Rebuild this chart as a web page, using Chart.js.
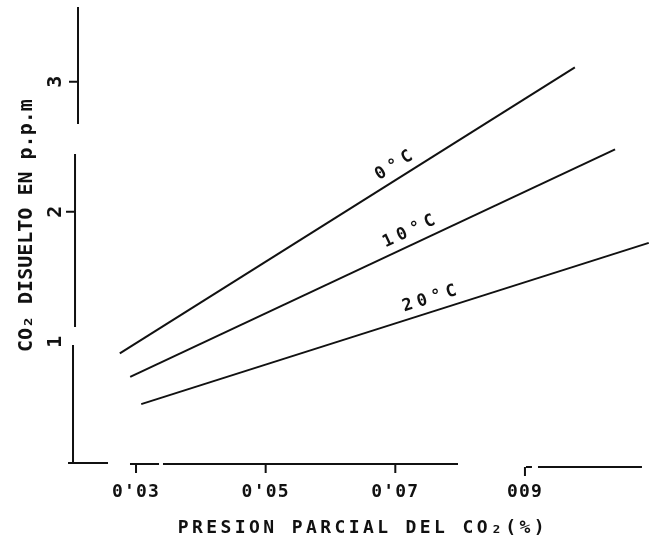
<!DOCTYPE html>
<html>
<head>
<meta charset="utf-8">
<script src="https://cdn.jsdelivr.net/npm/chart.js@4.4.1/dist/chart.umd.min.js"></script>
<style>
  html, body { margin: 0; padding: 0; background: #fff; }
  canvas { display: block; }
</style>
</head>
<body>
<canvas id="grafico" width="659" height="549"></canvas>
<script>
// valores
const curvas = ["0°C", "10°C", "20°C"];
const presion0 = [0.0275, 0.0977];
const ppm0 = [0.91, 3.11];
const presion10 = [0.0291, 0.1039];
const ppm10 = [0.73, 2.48];
const presion20 = [0.0308, 0.1091];
const ppm20 = [0.52, 1.76];

const xTicks = [0.03, 0.05, 0.07, 0.09];
const xTickLabels = ["0'03", "0'05", "0'07", "009"];
const yTicks = [1, 2, 3];
const yTickLabels = ["1", "2", "3"];

const INK = "#111";
const FONT = "'DejaVu Sans Mono', 'Liberation Mono', monospace";

const puntos = (xs, ys) => xs.map((x, i) => ({ x: x, y: ys[i] }));

// trozos de los ejes (el original los dibuja cortados), en unidades de datos
const ejeY = [
  { x: 0.02105, desde: 3.575, hasta: 2.675 },
  { x: 0.02059, desde: 2.444, hasta: 1.113 },
  { x: 0.02028, desde: 0.975, hasta: 0.066 },
];
const ejeX = [
  { y: 0.067, desde: 0.01951, hasta: 0.02568 },
  { y: 0.059, desde: 0.02907, hasta: 0.03355 },
  { y: 0.059, desde: 0.03416, hasta: 0.07967 },
  { y: 0.036, desde: 0.09016, hasta: 0.09108 },
  { y: 0.036, desde: 0.09201, hasta: 0.10805 },
];

// espaciado de letras por eje (rotulado a mano en el original)
const espaciado = { x: { title: "3.4px", ticks: "1.2px" }, y: { title: "0px", ticks: "0px" } };

const espaciadoPlugin = {
  id: "espaciado",
  afterUpdate(chart) {
    Object.keys(espaciado).forEach((id) => {
      const scale = chart.scales[id];
      if (!scale || scale._espaciado) return;
      const drawTitle = scale.drawTitle;
      const drawLabels = scale.drawLabels;
      scale.drawTitle = function (...args) {
        this.ctx.save();
        this.ctx.letterSpacing = espaciado[id].title;
        drawTitle.apply(this, args);
        this.ctx.restore();
      };
      scale.drawLabels = function (...args) {
        this.ctx.save();
        this.ctx.letterSpacing = espaciado[id].ticks;
        drawLabels.apply(this, args);
        this.ctx.restore();
      };
      scale._espaciado = true;
    });
  },
};

const ejesPlugin = {
  id: "ejes",
  afterDraw(chart) {
    const { ctx, scales: { x, y } } = chart;
    ctx.save();
    ctx.strokeStyle = INK;
    ctx.lineWidth = 2;
    ctx.lineCap = "butt";
    ctx.beginPath();
    ejeY.forEach((t) => {
      const px = x.getPixelForValue(t.x);
      ctx.moveTo(px, y.getPixelForValue(t.desde));
      ctx.lineTo(px, y.getPixelForValue(t.hasta));
      // marcas de la escala vertical
      yTicks.forEach((v) => {
        if (v <= t.desde && v >= t.hasta) {
          const py = y.getPixelForValue(v);
          ctx.moveTo(px, py);
          ctx.lineTo(px - 9, py);
        }
      });
    });
    ejeX.forEach((t) => {
      const py = y.getPixelForValue(t.y);
      ctx.moveTo(x.getPixelForValue(t.desde), py);
      ctx.lineTo(x.getPixelForValue(t.hasta), py);
    });
    xTicks.forEach((v) => {
      const t = ejeX.find((s) => v >= s.desde - 0.0002 && v <= s.hasta);
      if (!t) return;
      const px = x.getPixelForValue(v);
      const py = y.getPixelForValue(t.y);
      ctx.moveTo(px, py);
      ctx.lineTo(px, py + 9);
    });
    ctx.stroke();
    ctx.restore();
  },
};

const rotulosPlugin = {
  id: "rotulos",
  afterDatasetsDraw(chart, args, opts) {
    const { ctx, scales: { x, y } } = chart;
    ctx.save();
    ctx.fillStyle = INK;
    ctx.font = "bold 17px " + FONT;
    ctx.letterSpacing = "5px";
    ctx.textAlign = "center";
    ctx.textBaseline = "middle";
    chart.data.datasets.forEach((ds, i) => {
      const [a, b] = ds.data;
      const xv = opts.at[i];
      const yv = a.y + ((b.y - a.y) * (xv - a.x)) / (b.x - a.x);
      const ang = Math.atan2(
        y.getPixelForValue(b.y) - y.getPixelForValue(a.y),
        x.getPixelForValue(b.x) - x.getPixelForValue(a.x)
      );
      ctx.save();
      ctx.translate(x.getPixelForValue(xv), y.getPixelForValue(yv));
      ctx.rotate(ang);
      ctx.fillText(ds.label, 3, -13);
      ctx.restore();
    });
    ctx.restore();
  },
};

const serie = (label, xs, ys) => ({
  label: label,
  data: puntos(xs, ys),
  borderColor: INK,
  borderWidth: 2,
  pointRadius: 0,
  fill: false,
  tension: 0,
  clip: false,
});

new Chart(document.getElementById("grafico"), {
  type: "line",
  data: {
    datasets: [
      serie(curvas[0], presion0, ppm0),
      serie(curvas[1], presion10, ppm10),
      serie(curvas[2], presion20, ppm20),
    ],
  },
  options: {
    responsive: false,
    animation: false,
    devicePixelRatio: 1,
    layout: { padding: { top: 3.7, right: 4.4, left: 0, bottom: 0 } },
    plugins: {
      legend: { display: false },
      tooltip: { enabled: false },
      rotulos: { at: [0.0708, 0.0729, 0.0758] },
    },
    scales: {
      x: {
        type: "linear",
        min: 0.02,
        max: 0.11,
        grid: { display: false, drawTicks: false },
        border: { display: false },
        afterBuildTicks: (s) => { s.ticks = xTicks.map((v) => ({ value: v })); },
        afterFit: (s) => { s.height = 77.3; s.paddingLeft = 0; s.paddingRight = 0; },
        ticks: {
          color: INK,
          font: { family: FONT, size: 18, weight: "bold" },
          padding: 10,
          maxRotation: 0,
          autoSkip: false,
          callback: (v, i) => xTickLabels[i],
        },
        title: {
          display: true,
          text: "PRESION PARCIAL DEL CO₂(%)",
          color: INK,
          font: { family: FONT, size: 18, weight: "bold" },
          padding: { top: 0, bottom: 9.5 },
        },
      },
      y: {
        type: "linear",
        min: 0,
        max: 3.6,
        grid: { display: false, drawTicks: false },
        border: { display: false },
        afterBuildTicks: (s) => { s.ticks = yTicks.map((v) => ({ value: v })); },
        afterFit: (s) => { s.width = 71.2; s.paddingTop = 0; s.paddingBottom = 0; },
        ticks: {
          color: INK,
          font: { family: FONT, size: 20, weight: "bold" },
          padding: 9,
          minRotation: 90,
          maxRotation: 90,
          crossAlign: "center",
          autoSkip: false,
          callback: (v, i) => yTickLabels[i],
        },
        title: {
          display: true,
          text: "  CO₂ DISUELTO EN p.p.m",
          color: INK,
          font: { family: FONT, size: 20, weight: "bold" },
          padding: { top: 15, bottom: 0 },
        },
      },
    },
  },
  plugins: [espaciadoPlugin, ejesPlugin, rotulosPlugin],
});
</script>
</body>
</html>
